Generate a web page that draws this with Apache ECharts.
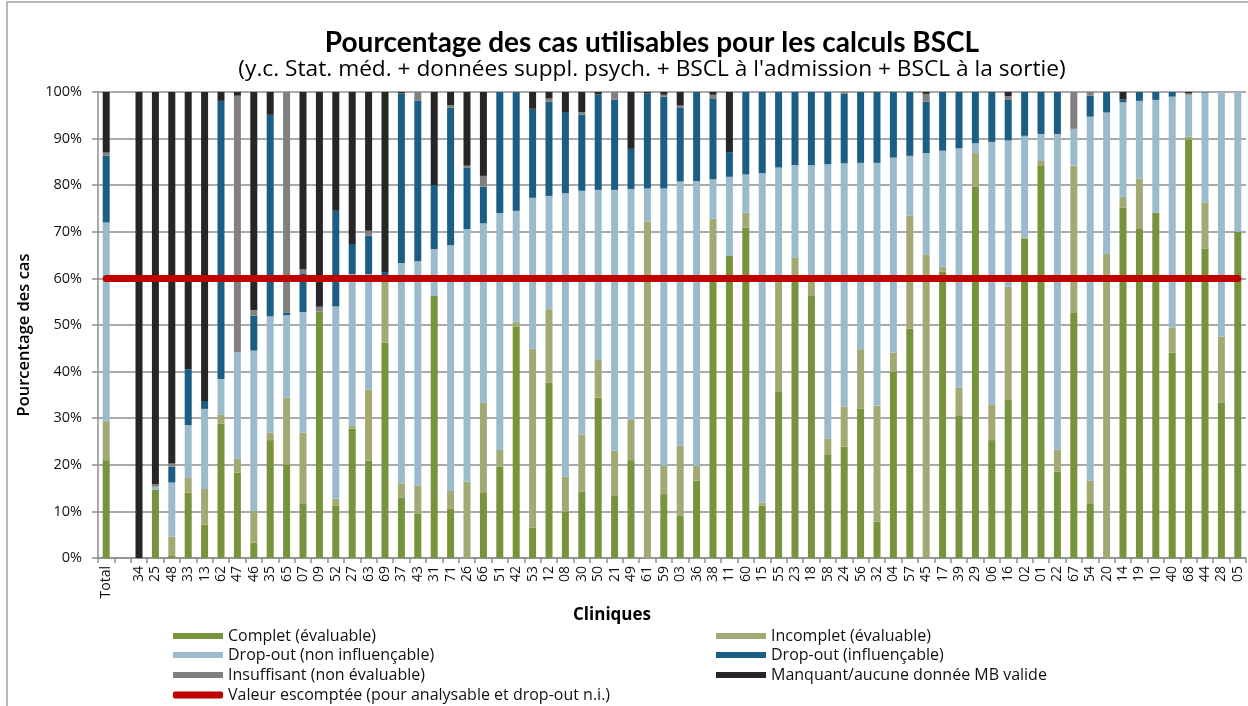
<!DOCTYPE html>
<html>
<head>
<meta charset="utf-8">
<script src="https://cdn.jsdelivr.net/npm/echarts@6/dist/echarts.min.js"></script>
<style>
  html, body { margin: 0; padding: 0; background: #fff; }
  #chart { width: 1248px; height: 706px; }
</style>
</head>
<body>
<div id="chart"></div>
<script>
// categories (cliniques), the 2nd one is an empty gap after "Total"
var categories = ['Total', '', '34', '25', '48', '33', '13', '62', '47', '46', '35', '65', '07', '09', '52', '27', '63', '69', '37', '43',
    '31', '71', '26', '66', '51', '42', '53', '12', '08', '30', '50', '21', '49', '61', '59', '03', '36', '38', '11', '60',
    '15', '55', '23', '18', '58', '24', '56', '32', '04', '57', '45', '17', '39', '29', '06', '16', '02', '01', '22', '67',
    '54', '20', '14', '19', '10', '40', '68', '44', '28', '05'];

// pourcentages par catégorie (de bas en haut dans la pile)
var complet = [21.0, null, 0, 14.6, 0.6, 14.0, 7.2, 28.8, 18.3, 3.3, 25.3, 20.1, 11.6, 52.9, 11.2, 27.8, 20.9, 46.2, 12.9, 9.6,
    56.2, 10.5, 0, 14.1, 19.6, 49.6, 6.5, 37.6, 9.9, 14.2, 34.4, 13.3, 21.0, 0, 13.7, 9.0, 16.6, 60.0, 64.8, 70.9,
    11.2, 35.8, 60.5, 56.2, 22.1, 23.9, 32.0, 7.8, 40.0, 49.2, 0, 61.4, 30.5, 79.8, 25.3, 33.9, 68.5, 84.3, 18.5, 52.6,
    11.6, 0, 75.2, 70.6, 74.1, 44.1, 89.8, 66.4, 33.3, 70.0];
var incomplet = [8.5, null, 0, 0, 4.0, 3.2, 7.6, 1.9, 3.0, 6.8, 1.6, 14.3, 15.3, 0, 1.5, 0.6, 15.3, 13.0, 3.1, 5.9,
    0, 3.9, 16.4, 19.2, 3.6, 1.1, 38.4, 15.8, 7.6, 12.3, 8.1, 9.7, 8.6, 72.2, 6.1, 15.1, 3.2, 12.8, 0, 3.2,
    0.7, 23.7, 3.9, 3.1, 3.5, 8.6, 12.8, 24.9, 4.1, 24.3, 65.2, 1.1, 6.1, 7.1, 7.7, 24.3, 0.3, 0.9, 4.8, 31.6,
    5.0, 65.4, 2.3, 10.8, 0, 5.4, 0.6, 9.9, 14.2, 0];
var dropNonInfl = [42.5, null, 0, 0.7, 11.6, 11.3, 17.2, 7.7, 22.9, 34.4, 25.0, 17.7, 25.9, 0, 41.3, 32.5, 24.7, 0, 47.3, 48.2,
    10.1, 52.7, 54.2, 38.5, 50.8, 23.8, 32.4, 24.3, 60.8, 52.3, 36.5, 56.0, 49.6, 7.1, 59.5, 56.7, 61.1, 8.5, 17.0, 8.2,
    70.7, 24.3, 19.9, 25.0, 58.9, 52.2, 40.0, 52.1, 41.8, 12.8, 21.7, 24.9, 51.3, 2.1, 56.3, 31.4, 21.8, 5.8, 67.7, 7.9,
    78.1, 30.2, 20.3, 16.7, 24.2, 49.5, 9.0, 23.6, 52.5, 30.0];
var dropInfl = [14.3, null, 0, 0, 3.4, 12.0, 1.7, 59.7, 0, 7.5, 43.2, 0.6, 8.3, 0, 20.5, 6.5, 8.3, 2.2, 36.4, 34.4,
    13.7, 29.5, 13.2, 7.9, 26.0, 25.4, 19.1, 20.2, 17.4, 16.3, 20.5, 19.4, 8.6, 20.4, 19.7, 15.9, 19.1, 17.2, 5.3, 17.7,
    17.4, 16.2, 15.7, 15.7, 15.5, 14.9, 15.2, 15.2, 14.1, 13.7, 11.0, 12.6, 12.1, 11.0, 10.7, 8.7, 9.4, 9.0, 9.0, 0,
    4.5, 4.4, 0.6, 1.9, 1.7, 1.0, 0, 0.1, 0, 0];
var insuffisant = [0.7, null, 0, 0.6, 0.7, 0, 0, 0, 55.0, 1.2, 0, 47.3, 0.8, 1.0, 0, 0, 1.0, 0, 0, 1.9,
    0, 0.6, 0.4, 2.3, 0, 0, 0, 0.7, 0, 0.6, 0, 1.6, 0, 0, 0.4, 0.4, 0, 0.9, 0, 0,
    0, 0, 0, 0, 0, 0.4, 0, 0, 0, 0, 1.7, 0, 0, 0, 0, 0.8, 0, 0, 0, 7.9,
    0.8, 0, 0, 0, 0, 0, 0.3, 0, 0, 0];
var manquant = [13.0, null, 100, 84.1, 79.7, 59.5, 66.3, 1.9, 0.8, 46.8, 4.9, 0, 38.1, 46.1, 25.5, 32.6, 29.8, 38.6, 0.3, 0,
    20.0, 2.8, 15.8, 18.0, 0, 0.1, 3.6, 1.4, 4.3, 4.3, 0.5, 0, 12.2, 0.3, 0.6, 2.9, 0, 0.6, 12.9, 0,
    0, 0, 0, 0, 0, 0, 0, 0, 0, 0, 0.4, 0, 0, 0, 0, 0.9, 0, 0, 0, 0,
    0, 0, 1.6, 0, 0, 0, 0.3, 0, 0, 0];
// valeur escomptée
var valeurEscomptee = categories.map(function () { return 60; });

var FONT = 'Open Sans';
var myChart = echarts.init(document.getElementById('chart'));

function barSerie(name, data, color) {
    return {
        name: name,
        type: 'bar',
        stack: 'cas',
        data: data,
        barWidth: 7,
        itemStyle: { color: color },
        emphasis: { disabled: true }
    };
}

// une légende par entrée, pour placer les 2 colonnes comme dans Excel
function legendItem(name, left, centerY, icon, h) {
    return {
        left: left, top: centerY - 8,
        itemWidth: 50, itemHeight: h || 6,
        icon: icon || 'rect',
        textStyle: { fontFamily: FONT, fontSize: 16, lineHeight: 16, color: '#111' },
        data: [name]
    };
}

var options = {
    animation: false,
    textStyle: { fontFamily: FONT, color: '#1a1a1a' },
    title: [
        {
            text: 'Pourcentage des cas utilisables pour les calculs BSCL',
            left: 647, top: 24, textAlign: 'center',
            textStyle: { fontFamily: 'Lato', fontSize: 28, fontWeight: 'bold', color: '#000' }
        },
        {
            text: '(y.c. Stat. méd. + données suppl. psych. + BSCL à l\'admission + BSCL à la sortie)',
            left: 647, top: 53, textAlign: 'center',
            textStyle: { fontFamily: FONT, fontSize: 22.7, fontWeight: 'normal', color: '#000' }
        }
    ],
    graphic: [{
        type: 'polyline',
        shape: { points: [[7, 706], [7, 2], [1248, 2]] },
        style: { stroke: '#a0a0a0', lineWidth: 1.5, fill: null }
    }],
    legend: [
        legendItem('Complet (évaluable)', 168, 631),
        legendItem('Drop-out (non influençable)', 168, 650),
        legendItem('Insuffisant (non évaluable)', 168, 670),
        legendItem('Valeur escomptée (pour analysable et drop-out n.i.)', 168, 690, 'roundRect', 7),
        legendItem('Incomplet (évaluable)', 711, 631),
        legendItem('Drop-out (influençable)', 711, 650),
        legendItem('Manquant/aucune donnée MB valide', 711, 670)
    ],
    grid: { left: 98, right: 2, top: 92, bottom: 148 },
    xAxis: {
        type: 'category',
        data: categories,
        name: 'Cliniques',
        nameLocation: 'middle',
        nameGap: 47,
        nameTextStyle: { fontFamily: FONT, fontSize: 17, fontWeight: 'bold', color: '#000', padding: [0, 120, 0, 0] },
        axisLine: { lineStyle: { color: '#8e8e8e', width: 1.5 } },
        axisTick: { show: true, length: 5, interval: 0, lineStyle: { color: '#8e8e8e', width: 1.5 } },
        axisLabel: { interval: 0, rotate: 90, fontSize: 14, margin: 8, color: '#111' }
    },
    yAxis: {
        type: 'value',
        min: 0, max: 100, interval: 10,
        name: 'Pourcentage des cas',
        nameLocation: 'middle',
        nameGap: 65,
        nameTextStyle: { fontFamily: FONT, fontSize: 16.5, fontWeight: 600, color: '#000', padding: [0, 20, 0, 0] },
        axisLine: { show: true, lineStyle: { color: '#8e8e8e', width: 1.5 } },
        axisTick: { show: true, length: 6, lineStyle: { color: '#8e8e8e', width: 1.5 } },
        axisLabel: { formatter: '{value}%', fontSize: 14.5, margin: 16, color: '#111' },
        splitLine: { lineStyle: { color: '#8e8e8e', width: 1.5 } }
    },
    series: [
        barSerie('Complet (évaluable)', complet, '#77933c'),
        barSerie('Incomplet (évaluable)', incomplet, '#a1aa73'),
        barSerie('Drop-out (non influençable)', dropNonInfl, '#9bbbcc'),
        barSerie('Drop-out (influençable)', dropInfl, '#1b5e83'),
        barSerie('Insuffisant (non évaluable)', insuffisant, '#808080'),
        barSerie('Manquant/aucune donnée MB valide', manquant, '#262626'),
        {
            name: 'Valeur escomptée (pour analysable et drop-out n.i.)',
            type: 'line',
            data: valeurEscomptee,
            symbol: 'none',
            z: 5,
            lineStyle: { color: '#c00000', width: 7, cap: 'round' },
            itemStyle: { color: '#c00000' },
            emphasis: { disabled: true }
        }
    ]
};
myChart.setOption(options);
</script>
</body>
</html>
